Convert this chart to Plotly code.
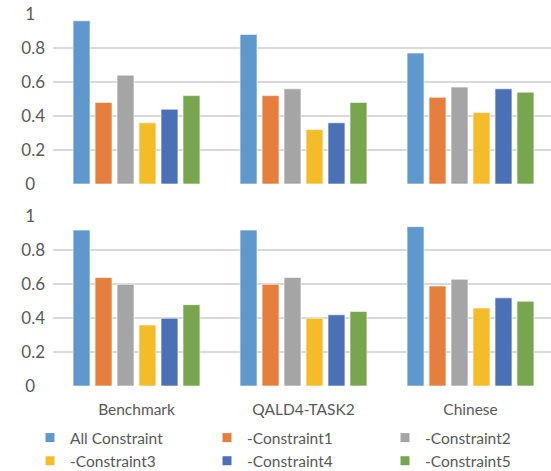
import plotly.graph_objects as go

categories = ["Benchmark", "QALD4-TASK2", "Chinese"]
series = ["All Constraint", "-Constraint1", "-Constraint2", "-Constraint3", "-Constraint4", "-Constraint5"]
colors = ["#5F98CC", "#E67F3E", "#A5A5A5", "#F5BC2A", "#4A71B6", "#78A64E"]

top_values = [
    [0.96, 0.88, 0.77],
    [0.48, 0.52, 0.51],
    [0.64, 0.56, 0.57],
    [0.36, 0.32, 0.42],
    [0.44, 0.36, 0.56],
    [0.52, 0.48, 0.54],
]
bottom_values = [
    [0.92, 0.92, 0.94],
    [0.64, 0.60, 0.59],
    [0.60, 0.64, 0.63],
    [0.36, 0.40, 0.46],
    [0.40, 0.42, 0.52],
    [0.48, 0.44, 0.50],
]
y_ticks = [0, 0.2, 0.4, 0.6, 0.8, 1]
y_tick_labels = ["0\u2007", "0.2", "0.4", "0.6", "0.8", "1\u2007"]

W, H = 551, 471
TXT = "#595959"
FONT = "Lato"

fig = go.Figure()
for i, name in enumerate(series):
    fig.add_trace(go.Bar(x=categories, y=top_values[i], name=name, marker_color=colors[i],
                         marker_line=dict(color="rgba(255,255,255,0.6)", width=1),
                         xaxis="x", yaxis="y", showlegend=False))
    fig.add_trace(go.Bar(x=categories, y=bottom_values[i], name=name, marker_color=colors[i],
                         marker_line=dict(color="rgba(255,255,255,0.6)", width=1),
                         xaxis="x2", yaxis="y2", showlegend=False))

legend_ids = ["legend", "legend2", "legend3", "legend", "legend2", "legend3"]
for i, name in enumerate(series):
    fig.add_trace(go.Scatter(x=[None], y=[None], mode="markers", name=name,
                             marker=dict(symbol="square", size=9, color=colors[i]),
                             xaxis="x", yaxis="y", legend=legend_ids[i]))

def ydom(top_px, bot_px):
    return [1 - bot_px / H, 1 - top_px / H]

xrange = [-0.5, -0.5 + 498 / 167]
common_y = dict(range=[0, 1], tickvals=y_ticks, ticktext=y_tick_labels, showgrid=True,
                gridcolor="#D9D9D9", gridwidth=1.5, zeroline=False, showline=False,
                tickfont=dict(family=FONT, size=17, color=TXT), ticklabelstandoff=7,
                automargin=False)
common_x = dict(range=xrange, showgrid=False, zeroline=False, showline=False,
                tickfont=dict(family=FONT, size=15.5, color=TXT), automargin=False)

legend_common = dict(orientation="v", xanchor="left", yanchor="top", y=1 - 421 / H,
                     font=dict(family=FONT, size=15.5, color=TXT), bgcolor="rgba(0,0,0,0)",
                     tracegroupgap=0, itemwidth=30)

fig.update_layout(
    width=W, height=H,
    margin=dict(l=53, r=0, t=0, b=0, autoexpand=False),
    paper_bgcolor="white", plot_bgcolor="white",
    barmode="group", bargap=0.21, bargroupgap=0.23,
    xaxis=dict(domain=[0, 1], anchor="y", showticklabels=False, **common_x),
    yaxis=dict(domain=ydom(14, 184), anchor="x", **common_y),
    xaxis2=dict(domain=[0, 1], anchor="y2", showticklabels=True, ticklabelstandoff=12, **common_x),
    yaxis2=dict(domain=ydom(216.5, 386), anchor="x2", **common_y),
    legend=dict(x=(30 - 53) / 498, **legend_common),
    legend2=dict(x=(207 - 53) / 498, **legend_common),
    legend3=dict(x=(385 - 53) / 498, **legend_common),
    font=dict(family=FONT, color=TXT),
)

fig.write_html("out.html")
